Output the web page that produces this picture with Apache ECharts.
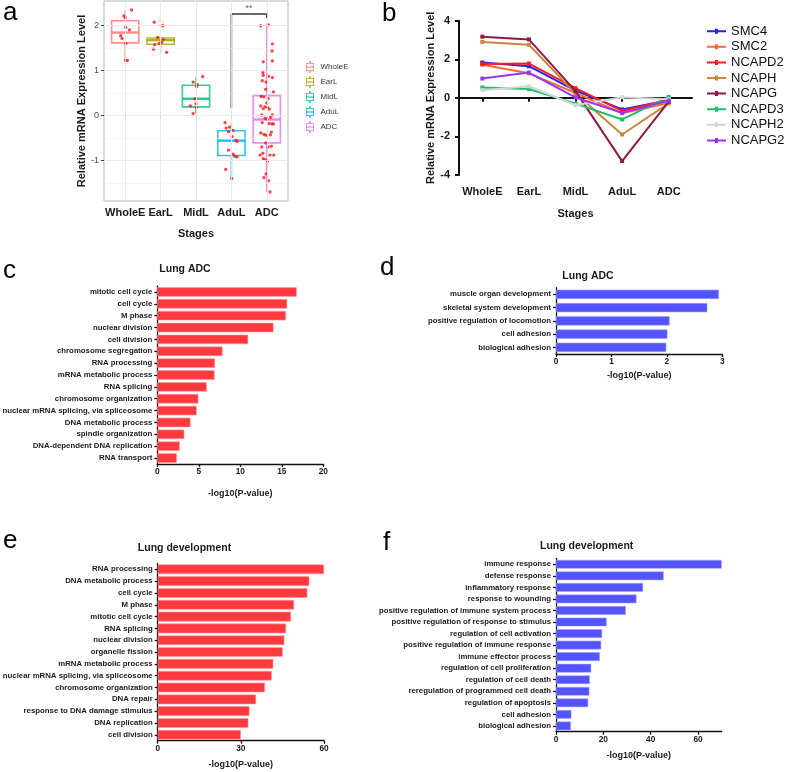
<!DOCTYPE html>
<html><head><meta charset="utf-8">
<script src="https://cdn.jsdelivr.net/npm/echarts@6/dist/echarts.min.js"></script>
<style>html,body{margin:0;padding:0;background:#fff}#c{width:787px;height:772px}</style>
</head><body><div id="c"></div><script>
// ===== Panel a =====
const stages = ['WholeE','EarL','MidL','AduL','ADC'];
const stageColors = ['#F8766D','#A3A500','#00BF7D','#00B0F6','#E76BF3'];
// [lowerWhisker, Q1, median, Q3, upperWhisker]
const boxWholeE = [1.21, 1.61, 1.84, 2.10, 2.34];
const boxEarL   = [1.40, 1.58, 1.67, 1.72, 1.73];
const boxMidL   = [0.04, 0.19, 0.37, 0.67, 0.85];
const boxAduL   = [-1.40, -0.89, -0.56, -0.34, -0.17];
const boxADC    = [-1.70, -0.61, -0.09, 0.44, 2.02];
// jittered points: [x offset from stage, value]
const ptsWholeE = [[0.18,2.34],[-0.04,2.21],[0.00,2.17],[0.01,1.96],[0.12,1.90],[-0.13,1.77],[-0.09,1.71],[0.02,1.60],[0.01,1.22],[0.06,1.22]];
const ptsEarL = [[-0.18,2.07],[0.06,1.99],[-0.08,1.73],[0.08,1.69],[0.03,1.62],[-0.04,1.60],[-0.17,1.57],[-0.20,1.47],[0.17,1.40]];
const ptsMidL = [[0.19,0.86],[-0.08,0.74],[0.03,0.69],[0.02,0.64],[-0.03,0.37],[0.00,0.26],[-0.16,0.21],[0.01,0.18],[-0.08,0.04]];
const ptsAduL = [[-0.18,-0.16],[-0.05,-0.26],[-0.15,-0.28],[0.05,-0.33],[-0.08,-0.36],[0.02,-0.47],[0.13,-0.55],[0.16,-0.58],[-0.08,-0.77],[0.05,-0.86],[0.10,-0.91],[0.16,-0.92],[-0.16,-1.20],[0.01,-1.40]];
const ptsADC = [[-0.17,1.99],[0.05,2.01],[0.16,1.59],[0.15,1.43],[-0.10,1.19],[0.16,1.21],[-0.11,0.95],[-0.10,0.89],[0.05,0.87],[0.16,0.84],[-0.13,0.77],[-0.02,0.74],[-0.03,0.58],[0.19,0.52],[-0.16,0.42],[-0.08,0.41],[0.04,0.37],[0.00,0.28],[-0.17,0.21],[-0.05,0.19],[0.02,0.18],[-0.10,0.15],[0.07,0.14],[-0.14,0.01],[0.16,0.01],[-0.05,-0.06],[0.00,-0.08],[0.11,-0.04],[-0.13,-0.16],[0.07,-0.18],[0.15,-0.19],[0.19,-0.19],[-0.17,-0.39],[-0.08,-0.42],[-0.02,-0.44],[0.13,-0.37],[0.10,-0.43],[-0.03,-0.61],[-0.14,-0.70],[0.04,-0.70],[0.13,-0.68],[-0.11,-0.84],[-0.19,-0.88],[0.09,-0.88],[0.20,-0.88],[-0.10,-0.96],[-0.05,-0.98],[0.02,-1.01],[-0.02,-1.30],[-0.08,-1.38],[0.05,-1.45],[0.09,-1.70]];
const outliersEarL = [2.06];
const sigBracket = [[4,0.16],[4,2.25],[5,2.25],[5,2.16]];
const sigLabel = '**';
const aYTicks = [-1,0,1,2];
const aGridMajor = [-1,0,1,2];
const aGridMinor = [-1.5,-0.5,0.5,1.5];

// ===== Panel b =====
const geneNames = ['SMC4','SMC2','NCAPD2','NCAPH','NCAPG','NCAPD3','NCAPH2','NCAPG2'];
const geneColors = ['#2323ff','#ff6a33','#ff1c1c','#c8873d','#8e1a45','#20bd6c','#d4d4d4','#9b35f5'];
const smc4   = [1.83, 1.64, 0.38, -0.60, -0.12];
const smc2   = [1.72, 1.27, 0.25, -0.80, -0.27];
const ncapd2 = [1.75, 1.78, 0.50, -0.68, -0.10];
const ncaph  = [2.90, 2.75, 0.22, -1.90, -0.29];
const ncapg  = [3.17, 3.03, 0.35, -3.28, -0.20];
const ncapd3 = [0.54, 0.46, -0.30, -1.12, 0.05];
const ncaph2 = [0.40, 0.60, -0.38, 0.03, -0.07];
const ncapg2 = [1.00, 1.31, 0.02, -0.78, -0.15];
const geneSeries = [smc4, smc2, ncapd2, ncaph, ncapg, ncapd3, ncaph2, ncapg2];

// ===== Panel c =====
const cTerms = ['mitotic cell cycle','cell cycle','M phase','nuclear division','cell division','chromosome segregation','RNA processing','mRNA metabolic process','RNA splicing','chromosome organization','nuclear mRNA splicing, via spliceosome','DNA metabolic process','spindle organization','DNA-dependent DNA replication','RNA transport'];
const cValues = [16.8, 15.65, 15.5, 14.0, 10.95, 7.85, 6.95, 6.9, 5.95, 4.95, 4.75, 4.0, 3.25, 2.7, 2.35];
// ===== Panel d =====
const dTerms = ['muscle organ development','skeletal system development','positive regulation of locomotion','cell adhesion','biological adhesion'];
const dValues = [2.94, 2.73, 2.05, 2.01, 1.99];
// ===== Panel e =====
const eTerms = ['RNA processing','DNA metabolic process','cell cycle','M phase','mitotic cell cycle','RNA splicing','nuclear division','organelle fission','mRNA metabolic process','nuclear mRNA splicing, via spliceosome','chromosome organization','DNA repair','response to DNA damage stimulus','DNA replication','cell division'];
const eValues = [60.0, 54.7, 54.0, 49.2, 48.1, 46.3, 45.7, 45.1, 41.7, 41.2, 38.7, 35.5, 33.1, 32.7, 30.0];
// ===== Panel f =====
const fTerms = ['immune response','defense response','inflammatory response','response to wounding','positive regulation of immune system process','positive regulation of response to stimulus','regulation of cell activation','positive regulation of immune response','immune effector process','regulation of cell proliferation','regulation of cell death','reregulation of programmed cell death','regulation of apoptosis','cell adhesion','biological adhesion'];
const fValues = [70.0, 45.5, 36.8, 34.0, 29.5, 21.4, 19.5, 19.1, 18.5, 14.9, 14.3, 14.1, 13.6, 6.5, 6.3];

const FONT = 'Liberation Sans, Arial, Helvetica, sans-serif';
const RED = '#ff3a3f', BLUE = '#5353ff';

const chart = echarts.init(document.getElementById('c'), null, {renderer:'canvas'});

const boxes = [boxWholeE, boxEarL, boxMidL, boxAduL, boxADC];
const pts = [ptsWholeE, ptsEarL, ptsMidL, ptsAduL, ptsADC];

function renderBox(params, api) {
  const x = api.value(0);
  const lo = api.value(1), q1 = api.value(2), med = api.value(3), q3 = api.value(4), hi = api.value(5);
  const hw = 0.385;
  const tl = api.coord([x - hw, q3]), br = api.coord([x + hw, q1]);
  const mL = api.coord([x - hw, med]), mR = api.coord([x + hw, med]);
  const pHi = api.coord([x, hi]), pQ3 = api.coord([x, q3]), pQ1 = api.coord([x, q1]), pLo = api.coord([x, lo]);
  const color = api.visual('color');
  const st = {stroke: color, lineWidth: 1.6, opacity: 0.8};
  return {type:'group', children:[
    {type:'line', shape:{x1:pHi[0],y1:pHi[1],x2:pQ3[0],y2:pQ3[1]}, style:st},
    {type:'line', shape:{x1:pQ1[0],y1:pQ1[1],x2:pLo[0],y2:pLo[1]}, style:st},
    {type:'rect', shape:{x:tl[0],y:tl[1],width:br[0]-tl[0],height:br[1]-tl[1]}, style:{fill:'#fff', stroke:color, lineWidth:1.6, opacity:0.8}},
    {type:'line', shape:{x1:mL[0],y1:mL[1],x2:mR[0],y2:mR[1]}, style:{stroke:color, lineWidth:2.4, opacity:0.85}}
  ]};
}

const series = [];
// panel a gridlines
series.push({
  type:'line', xAxisIndex:0, yAxisIndex:0, data:[[1,0]], showSymbol:false, symbolSize:0,
  lineStyle:{opacity:0}, silent:true, z:1,
  markLine:{silent:true, symbol:'none', label:{show:false}, animation:false,
    data: aGridMajor.map(v=>({yAxis:v, lineStyle:{color:'#e6e6e6', width:0.9, type:'solid'}}))
      .concat(aGridMinor.map(v=>({yAxis:v, lineStyle:{color:'#f2f2f2', width:0.6, type:'solid'}})))
      .concat(stages.map((s,i)=>({xAxis:i+1, lineStyle:{color:'#e6e6e6', width:0.9, type:'solid'}})))
  }
});
stages.forEach((s,i)=>{
  series.push({
    type:'custom', name:s, xAxisIndex:0, yAxisIndex:0, z:2,
    itemStyle:{color:stageColors[i]},
    encode:{x:0, y:[1,2,3,4,5]},
    data:[[i+1].concat(boxes[i])],
    renderItem: renderBox
  });
});
series.push({
  type:'scatter', xAxisIndex:0, yAxisIndex:0, z:3, symbol:'circle', symbolSize:5,
  itemStyle:{color:'rgba(255,255,255,0)', borderColor:'#d9d68f', borderWidth:1},
  data: outliersEarL.map(v=>[2, v])
});
series.push({
  type:'line', xAxisIndex:0, yAxisIndex:0, z:3, data:sigBracket, showSymbol:false, symbol:'none',
  lineStyle:{color:'#3a3a3a', width:1.6}, silent:true
});
series.push({
  type:'scatter', xAxisIndex:0, yAxisIndex:0, z:3, symbolSize:0,
  data:[[(sigBracket[1][0]+sigBracket[2][0])/2, sigBracket[1][1]]],
  label:{show:true, position:'top', distance:1, formatter:sigLabel, fontSize:9, color:'#333', fontFamily:FONT}
});
series.push({
  type:'scatter', xAxisIndex:0, yAxisIndex:0, z:4, symbol:'circle', symbolSize:3.3,
  itemStyle:{color:'#ff1414'},
  data: pts.flatMap((arr,i)=>arr.map(p=>[i+1+p[0], p[1]]))
});
// panel b
geneNames.forEach((g,i)=>{
  series.push({
    type:'line', name:g, xAxisIndex:1, yAxisIndex:1, data:geneSeries[i],
    symbol:'rect', symbolSize:4, showSymbol:true,
    itemStyle:{color:geneColors[i]}, lineStyle:{color:geneColors[i], width:2}, z:2+i
  });
});
function barSeries(idx, values, color, border, gap) {
  return {type:'bar', xAxisIndex:idx, yAxisIndex:idx, data:values, barCategoryGap:gap,
    itemStyle:{color:color, borderColor:border, borderWidth:0.6}, silent:true};
}
series.push(barSeries(2, cValues, RED, '#ff9a9c', '20%'));
series.push(barSeries(3, dValues, BLUE, '#a5a5ff', '30%'));
series.push(barSeries(4, eValues, RED, '#ff9a9c', '18%'));
series.push(barSeries(5, fValues, BLUE, '#a5a5ff', '24%'));

const axLine = {show:true, lineStyle:{color:'#111', width:1.3}};
const axTick = {show:true, length:3, lineStyle:{color:'#111', width:1.3}};
const lab = {fontFamily:FONT, fontSize:7.8, fontWeight:'bold', color:'#1a1a1a'};
function barX(idx, max, interval, custom, nameGap) {
  const o = {type:'value', gridIndex:idx, min:0, max:max, interval:interval,
    axisLine:axLine, axisTick:Object.assign({}, axTick), splitLine:{show:false},
    axisLabel:Object.assign({margin:4}, lab, {fontSize:8.3}),
    name:'-log10(P-value)', nameLocation:'middle', nameGap:nameGap,
    nameTextStyle:{fontFamily:FONT, fontSize:9, fontWeight:'bold', color:'#1a1a1a'}};
  if (custom) { o.axisTick.customValues = custom; o.axisLabel.customValues = custom; }
  return o;
}
function barY(idx, terms) {
  return {type:'category', gridIndex:idx, data:terms, inverse:true,
    axisLine:axLine, axisTick:Object.assign({alignWithLabel:true}, axTick),
    axisLabel:Object.assign({margin:5, interval:0}, lab), splitLine:{show:false}};
}

const titleStyle = (t,x,y)=>({type:'text', silent:true, style:{text:t, x:x, y:y, textAlign:'center', textVerticalAlign:'middle', font:'bold 10.5px '+FONT, fill:'#1a1a1a'}});
const letter = (t,x,y)=>({type:'text', silent:true, style:{text:t, x:x, y:y, textAlign:'left', textVerticalAlign:'middle', font:'26px '+FONT, fill:'#000'}});

const gridBase = {containLabel:false, outerBoundsMode:'none'};
const option = {
  animation:false,
  textStyle:{fontFamily:FONT},
  grid:[
    Object.assign({left:104, top:1, width:184, height:200, show:true, borderColor:'#b5b5b5', borderWidth:1, backgroundColor:'#fff'}, gridBase),
    Object.assign({left:459, top:20.7, width:233, height:154.3}, gridBase),
    Object.assign({left:157.3, top:286, width:166, height:178}, gridBase),
    Object.assign({left:556, top:287.7, width:166.3, height:66.3}, gridBase),
    Object.assign({left:157.7, top:563.4, width:166.3, height:177.3}, gridBase),
    Object.assign({left:556, top:558.5, width:165.7, height:173.2}, gridBase)
  ],
  xAxis:[
    {type:'value', gridIndex:0, min:0.4, max:5.6, axisLine:{show:false}, splitLine:{show:false},
      axisTick:{show:true, length:3, customValues:[1,2,3,4,5], lineStyle:{color:'#444', width:1}},
      axisLabel:{customValues:[1,2,3,4,5], formatter:v=>stages[Math.round(v)-1], fontFamily:FONT, fontSize:11, fontWeight:'bold', color:'#1a1a1a', margin:6},
      name:'Stages', nameLocation:'middle', nameGap:27, nameTextStyle:{fontFamily:FONT, fontSize:11, fontWeight:'bold', color:'#1a1a1a'}},
    {type:'category', gridIndex:1, data:stages, boundaryGap:true,
      axisLine:{show:true, lineStyle:{color:'#111', width:2}},
      axisTick:{show:true, alignWithLabel:true, length:4, lineStyle:{color:'#111', width:2}},
      axisLabel:{fontFamily:FONT, fontSize:11, fontWeight:'bold', color:'#1a1a1a', margin:11, interval:0},
      name:'Stages', nameLocation:'middle', nameGap:33, nameTextStyle:{fontFamily:FONT, fontSize:11, fontWeight:'bold', color:'#1a1a1a'}},
    barX(2, 20, 5, null, 25),
    barX(3, 3, 1, null, 17),
    barX(4, 60, 30, null, 19),
    barX(5, 70, 20, [0,20,40,60], 19)
  ],
  yAxis:[
    {type:'value', gridIndex:0, min:-1.9, max:2.54, axisLine:{show:false}, splitLine:{show:false},
      axisTick:{show:true, length:3, customValues:aYTicks, lineStyle:{color:'#444', width:1}},
      axisLabel:{customValues:aYTicks, fontFamily:FONT, fontSize:9, color:'#4d4d4d', margin:5},
      name:'Relative mRNA Expression Level', nameLocation:'middle', nameGap:15, nameRotate:90,
      nameTextStyle:{fontFamily:FONT, fontSize:11, fontWeight:'bold', color:'#1a1a1a'}},
    {type:'value', gridIndex:1, min:-4, max:4, interval:2, splitLine:{show:false},
      axisLine:{show:true, lineStyle:{color:'#111', width:2}},
      axisTick:{show:true, length:4, lineStyle:{color:'#111', width:2}},
      axisLabel:{fontFamily:FONT, fontSize:11, fontWeight:'bold', color:'#1a1a1a', margin:9},
      name:'Relative mRNA Expression Level', nameLocation:'middle', nameGap:18, nameRotate:90,
      nameTextStyle:{fontFamily:FONT, fontSize:11, fontWeight:'bold', color:'#1a1a1a'}},
    barY(2, cTerms), barY(3, dTerms), barY(4, eTerms), barY(5, fTerms)
  ],
  legend:[
    {data:stages, orient:'vertical', left:306, top:61, itemGap:3, itemWidth:11, itemHeight:12, padding:0,
      icon:'path://M5,0h2v3h5v12h-5v3h-2v-3h-5v-12h5z M1,4v4.3h10v-4.3z M1,9.7v4.3h10v-4.3z',
      textStyle:{fontFamily:FONT, fontSize:8, color:'#333'}, selectedMode:false},
    {data:geneNames, orient:'vertical', left:707, top:24.7, itemGap:2.6, itemWidth:19, itemHeight:15, padding:0,
      itemStyle:{borderWidth:0},
      icon:'path://M0,6.5h8v-1.5h3v1.5h8v2h-8v1.5h-3v-1.5h-8z',
      textStyle:{fontFamily:FONT, fontSize:13, color:'#111'}, selectedMode:false}
  ],
  graphic:[
    letter('a',3,13), letter('b',382,14), letter('c',3,271), letter('d',380,268), letter('e',3,541), letter('f',383,543),
    titleStyle('Lung ADC',185,269.3), titleStyle('Lung ADC',588,276),
    titleStyle('Lung development',184.5,548.3), titleStyle('Lung development',586.7,545.7)
  ],
  series:series
};
chart.setOption(option);
</script></body></html>
